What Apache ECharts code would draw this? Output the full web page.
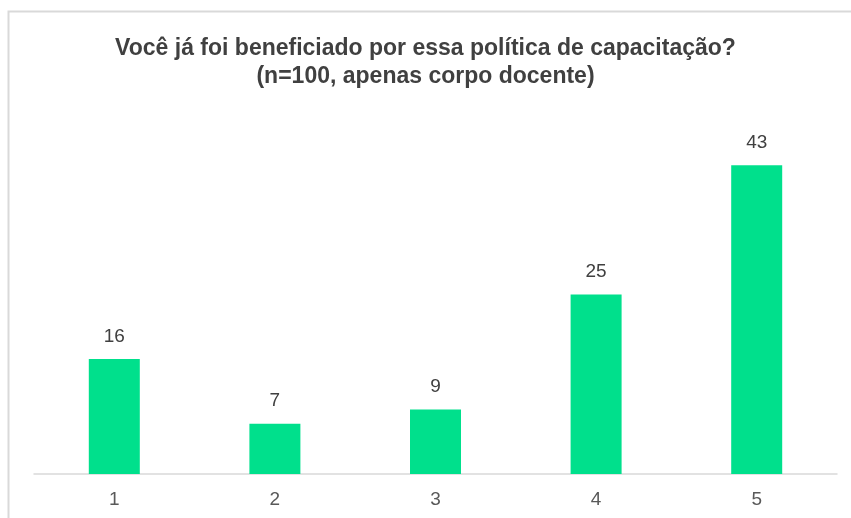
<!DOCTYPE html>
<html>
<head>
<meta charset="utf-8">
<script src="https://cdn.jsdelivr.net/npm/echarts@6/dist/echarts.min.js"></script>
<style>
  html, body { margin: 0; padding: 0; background: #fff; }
  #chart { width: 851px; height: 518px; }
</style>
</head>
<body>
<div id="chart"></div>
<script>
var categories = ['1', '2', '3', '4', '5'];
var values = [16, 7, 9, 25, 43];
var titleText = 'Você já foi beneficiado por essa política de capacitação?\n(n=100, apenas corpo docente)';

var myChart = echarts.init(document.getElementById('chart'));

var option = {
    animation: false,
    backgroundColor: '#fff',
    graphic: [{
        type: 'rect',
        shape: { x: 8.5, y: 11.5, width: 860, height: 520 },
        style: { fill: 'none', stroke: '#d9d9d9', lineWidth: 2 }
    }],
    title: {
        text: titleText,
        left: 'center',
        top: 30,
        textStyle: {
            color: '#404040',
            fontFamily: 'Liberation Sans',
            fontWeight: 'bold',
            fontSize: 23,
            lineHeight: 28
        }
    },
    grid: { left: 34, right: 14, top: 115, bottom: 44 },
    xAxis: {
        type: 'category',
        data: categories,
        axisLine: { lineStyle: { color: '#d9d9d9', width: 1.5 } },
        axisTick: { show: false },
        axisLabel: {
            color: '#595959',
            fontFamily: 'Liberation Sans',
            fontSize: 19,
            margin: 16
        }
    },
    yAxis: {
        type: 'value',
        min: 0,
        max: 50,
        show: false,
        splitLine: { show: false }
    },
    series: [{
        type: 'bar',
        data: values,
        barWidth: 51,
        itemStyle: { color: '#00e08c' },
        label: {
            show: true,
            position: 'top',
            distance: 13,
            color: '#404040',
            fontFamily: 'Liberation Sans',
            fontSize: 19
        }
    }]
};

myChart.setOption(option);
</script>
</body>
</html>
